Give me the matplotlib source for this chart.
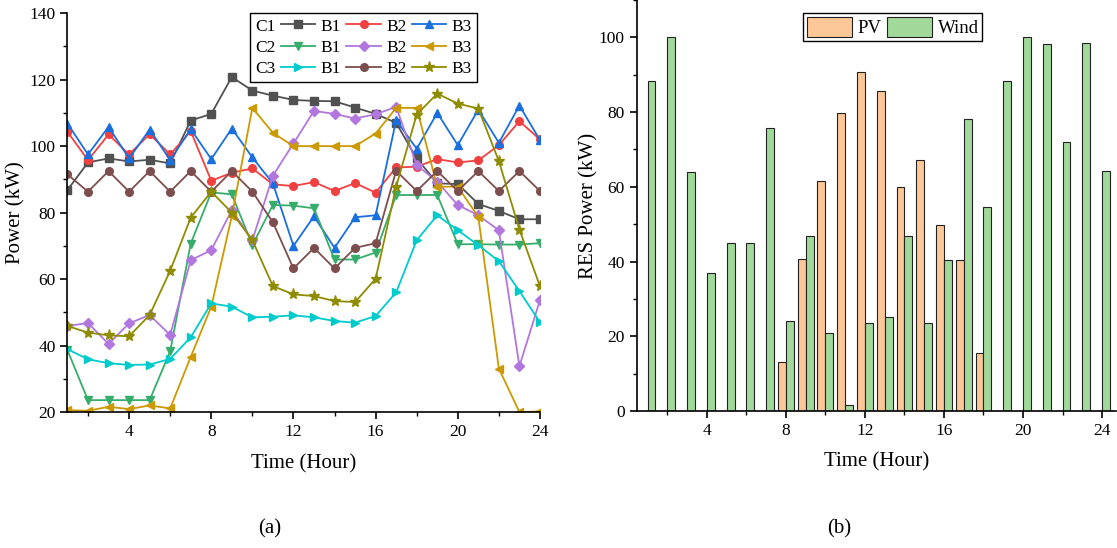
import matplotlib.pyplot as plt
import numpy as np
from matplotlib.lines import Line2D
from matplotlib.ticker import MultipleLocator

plt.rcParams['font.family'] = ['Liberation Serif', 'DejaVu Serif']
plt.rcParams['xtick.direction'] = 'out'
plt.rcParams['ytick.direction'] = 'out'

hours = np.arange(1, 25)

# load profiles of the three communities (C1..C3) over their buses (B1..B3), kW
c1_b1 = [86.8, 95.1, 96.3, 95.4, 95.9, 94.8, 107.7, 109.7, 120.8, 116.7, 115.2, 113.9,
         113.6, 113.5, 111.6, 109.7, 107.0, 96.3, 88.8, 88.6, 82.6, 80.5, 78.0, 78.0]
c1_b2 = [104.3, 95.8, 103.5, 97.5, 103.6, 97.5, 104.5, 89.6, 92.0, 93.3, 88.5, 88.0,
         89.2, 86.5, 88.9, 86.0, 93.6, 93.8, 96.1, 95.1, 95.7, 100.3, 107.5, 102.0]
c1_b3 = [106.8, 97.5, 105.8, 96.3, 105.0, 95.8, 105.1, 96.1, 105.3, 96.6, 88.8, 70.0,
         78.9, 69.4, 78.6, 79.2, 107.8, 99.2, 110.0, 100.3, 111.0, 101.0, 112.2, 101.8]
c2_b1 = [38.6, 23.6, 23.6, 23.6, 23.6, 38.3, 70.7, 86.1, 85.5, 70.2, 82.3, 82.1,
         81.3, 65.9, 65.9, 68.0, 85.3, 85.3, 85.3, 70.5, 70.5, 70.4, 70.4, 70.8]
c2_b2 = [45.9, 46.8, 40.5, 46.7, 49.2, 43.2, 65.7, 68.7, 80.8, 71.7, 91.1, 100.8,
         110.6, 109.7, 108.3, 109.6, 111.8, 94.3, 89.3, 82.3, 79.2, 74.7, 33.8, 53.7]
c2_b3 = [20.6, 20.4, 21.6, 20.9, 22.0, 21.1, 36.6, 51.7, 79.0, 111.5, 104.0, 100.0,
         100.0, 100.0, 100.0, 103.8, 111.5, 111.5, 87.8, 87.8, 78.7, 33.1, 20.0, 20.2]
c3_b1 = [38.9, 35.9, 34.7, 34.2, 34.3, 36.0, 42.5, 52.7, 51.7, 48.5, 48.7, 49.1,
         48.5, 47.4, 46.9, 48.9, 56.0, 71.7, 79.2, 74.7, 70.2, 65.4, 56.4, 47.0]
c3_b2 = [91.5, 86.3, 92.5, 86.3, 92.5, 86.3, 92.5, 86.3, 92.5, 86.3, 77.1, 63.2,
         69.4, 63.2, 69.4, 70.8, 92.6, 86.5, 92.5, 86.5, 92.5, 86.5, 92.5, 86.5]
c3_b3 = [45.9, 43.9, 43.1, 42.8, 49.2, 62.5, 78.5, 86.3, 80.0, 71.7, 57.9, 55.4,
         54.9, 53.4, 53.1, 60.1, 87.8, 109.5, 115.8, 112.8, 111.3, 95.5, 74.9, 57.9]

# renewable output, kW
pv = [0, 0, 0, 0, 0, 0, 0, 13.2, 40.6, 61.5, 79.8, 90.7,
      85.7, 60.0, 67.1, 49.9, 40.4, 15.5, 0, 0, 0, 0, 0, 0]
wind = [88.4, 100.0, 64.0, 37.0, 45.0, 45.0, 75.8, 24.2, 46.8, 20.9, 1.7, 23.5,
        25.1, 46.8, 23.5, 40.4, 78.2, 54.7, 88.4, 100.0, 98.3, 72.0, 98.6, 64.2]

communities = ['C1', 'C2', 'C3']
buses = ['B1', 'B2', 'B3']
loads = [[c1_b1, c1_b2, c1_b3], [c2_b1, c2_b2, c2_b3], [c3_b1, c3_b2, c3_b3]]
colors = [['#515151', '#F14040', '#1A6FDF'],
          ['#37AD6B', '#B177DE', '#CC9900'],
          ['#00CBCC', '#7D4E4E', '#8E8C00']]
markers = [['s', 'o', '^'], ['v', 'D', '<'], ['>', 'o', '*']]

fig = plt.figure(figsize=(11.17, 5.48), dpi=100)
ax1 = fig.add_axes([0.0604, 0.248, 0.423, 0.728])
ax2 = fig.add_axes([0.570, 0.250, 0.429, 0.750])

lines = [[None] * 3 for _ in range(3)]
for i in range(3):
    for j in range(3):
        ms = 5.5
        if markers[i][j] == '*':
            ms = 8
        elif markers[i][j] == 'D':
            ms = 5
        lines[i][j], = ax1.plot(hours, loads[i][j], color=colors[i][j], marker=markers[i][j],
                                markersize=ms, linewidth=1.3)

ax1.set_xlim(1, 24)
ax1.set_ylim(20, 140)
ax1.xaxis.set_major_locator(MultipleLocator(4))
ax1.xaxis.set_minor_locator(MultipleLocator(2))
ax1.yaxis.set_major_locator(MultipleLocator(20))
ax1.yaxis.set_minor_locator(MultipleLocator(10))
ax1.set_xlabel('Time (Hour)', fontsize=15, labelpad=10)
ax1.set_ylabel('Power (kW)', fontsize=15, labelpad=3)

# legend laid out as "Cx —— B1 —— B2 —— B3"
blank = Line2D([], [], linestyle='none')
handles, labels = [], []
for col in range(4):
    for row in range(3):
        if col == 0:
            labels.append(communities[row])
        else:
            labels.append(buses[col - 1])
        handles.append(lines[row][col] if col < 3 else blank)
leg1 = ax1.legend(handles, labels, ncol=4, markerfirst=False, loc='upper left',
                  bbox_to_anchor=(0.386, 1.0), borderaxespad=0, fontsize=12.5,
                  handlelength=2.0, handletextpad=0.3, columnspacing=0.3,
                  labelspacing=0.3, borderpad=0.3, fancybox=False, framealpha=1,
                  edgecolor='black')
leg1.get_frame().set_linewidth(1.0)
for entry in leg1._legend_handle_box.get_children()[-1].get_children():
    entry.get_children()[1].width = 0
    entry.sep = 0

w = 0.4
ax2.bar(hours - w / 2, pv, w, color='#FDC897', edgecolor='#222222', linewidth=0.8, label='PV')
ax2.bar(hours + w / 2, wind, w, color='#A1D99B', edgecolor='#222222', linewidth=0.8, label='Wind')
ax2.set_xlim(0.45, 24.7)
ax2.set_ylim(0, 110)
ax2.xaxis.set_major_locator(MultipleLocator(4))
ax2.xaxis.set_minor_locator(MultipleLocator(2))
ax2.yaxis.set_major_locator(MultipleLocator(20))
ax2.yaxis.set_minor_locator(MultipleLocator(10))
ax2.set_xlabel('Time (Hour)', fontsize=15, labelpad=10)
ax2.set_ylabel('RES Power (kW)', fontsize=15, labelpad=0)
leg2 = ax2.legend(ncol=2, loc='upper left', bbox_to_anchor=(0.347, 0.968), borderaxespad=0,
                  fontsize=13.5, handlelength=2.4, handleheight=1.3, handletextpad=0.3,
                  columnspacing=0.3, borderpad=0.2, fancybox=False, framealpha=1,
                  edgecolor='black')
leg2.get_frame().set_linewidth(1.0)

for ax in (ax1, ax2):
    for side in ('top', 'right'):
        ax.spines[side].set_visible(False)
    for side in ('left', 'bottom'):
        ax.spines[side].set_linewidth(1.2)
    ax.tick_params(which='major', length=5, width=1.2, labelsize=12.5)
    ax.tick_params(which='minor', length=3, width=1.0)

fig.text(0.2417, 0.035, '(a)', ha='center', va='center', fontsize=15)
fig.text(0.751, 0.035, '(b)', ha='center', va='center', fontsize=15)

fig.savefig('out.png', dpi=100)
